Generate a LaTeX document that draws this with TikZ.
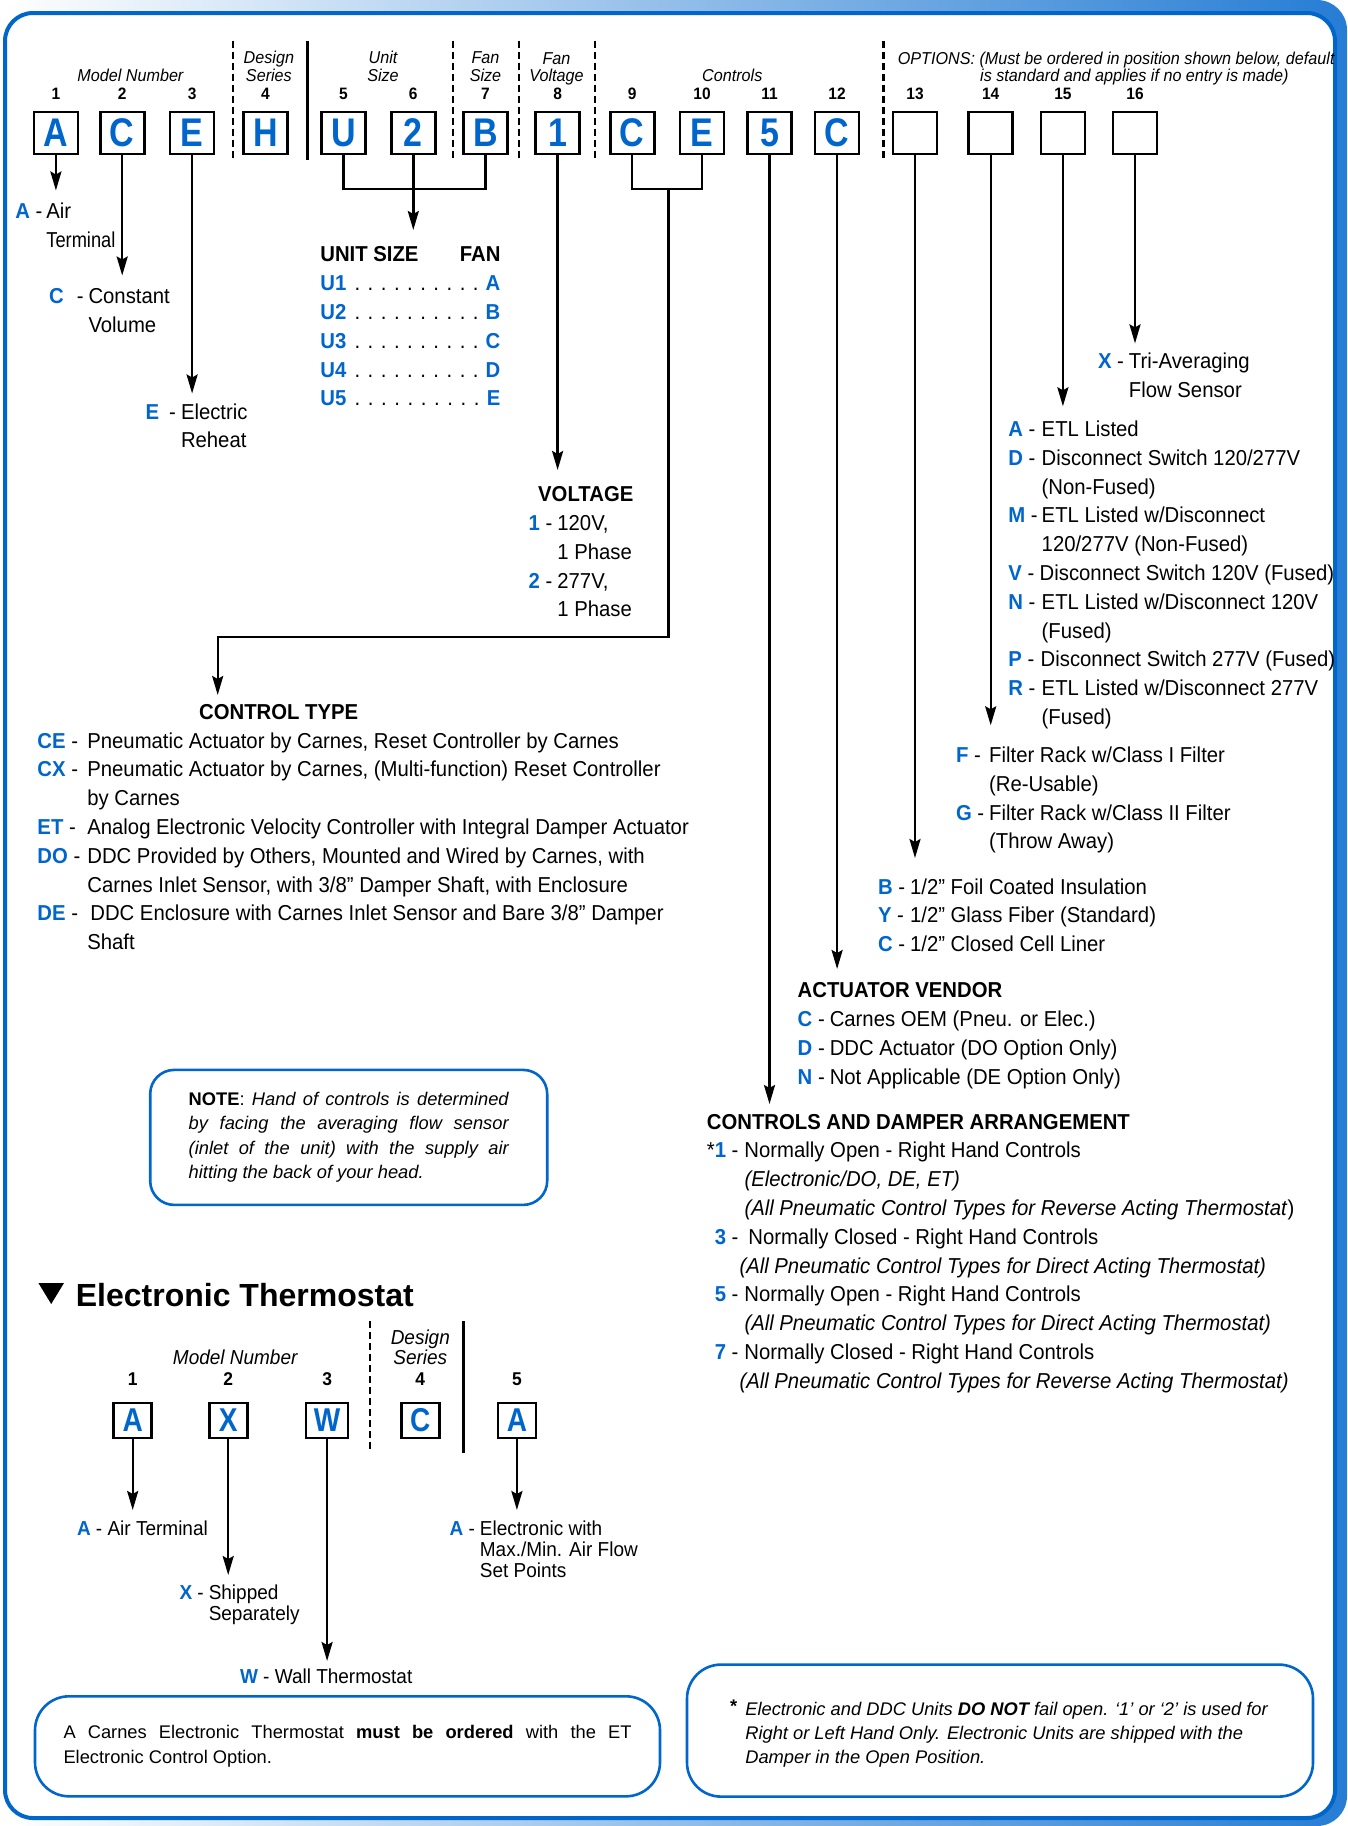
\documentclass[tikz,border=0pt]{standalone}
\usepackage{fontspec}
\usepackage{graphicx}
\setmainfont{Liberation Sans}
\newfontfamily\descfont{Liberation Sans}[FakeStretch=0.94]
\newfontfamily\boxfont{Liberation Sans}[FakeStretch=0.85]
\usetikzlibrary{positioning,arrows.meta}
\definecolor{carnesblue}{RGB}{0,102,204}
\newcommand{\cd}[1]{\textcolor{carnesblue}{\bfseries #1}}
\newcommand{\opts}[2][5pt]{\begin{tabular}[t]{@{}l@{\hspace{#1}}l@{}}#2\end{tabular}}
\newcommand{\sizerow}[2]{\hbox to 180pt{\cd{#1}\hspace{4pt}\xleaders\hbox to 12.2pt{\hss.\hss}\hfill\hspace{3pt}\cd{#2}}}

\begin{document}
\begin{tikzpicture}
        [x=1pt,y=-1pt,every node/.style={inner sep=0pt},
         codebox/.style={draw,line width=2.6pt,minimum width=44pt,minimum height=42pt,
           text=carnesblue,font=\boxfont\bfseries\fontsize{40}{40}\selectfont},
         tbox/.style={codebox,minimum height=35pt,font=\boxfont\bfseries\fontsize{33}{33}\selectfont},
         posnum/.style={font=\descfont\bfseries\fontsize{16.5}{16.5}\selectfont},
         tposnum/.style={font=\descfont\bfseries\fontsize{18.5}{18.5}\selectfont},
         fieldlbl/.style={font=\descfont\itshape\fontsize{17.2}{17.5}\selectfont\lineskiplimit-20pt,align=center,anchor=south},
         tfieldlbl/.style={fieldlbl,font=\descfont\itshape\fontsize{20.2}{20}\selectfont\lineskiplimit-20pt},
         desc/.style={font=\descfont\fontsize{21.6}{28.8}\selectfont,anchor=base west},
         tdesc/.style={font=\descfont\fontsize{20.2}{21}\selectfont,anchor=base west},
         notebox/.style={draw=carnesblue,line width=2.6pt,rounded corners=24pt,
           font=\fontsize{18.3}{24.4}\selectfont,align=justify},
         sepline/.style={line width=2.4pt,dash pattern=on 7pt off 4pt},
         lead/.style={line width=2.4pt},
         arr/.style={line width=2.4pt,-{Stealth[length=19pt,width=11pt,inset=3pt]}}]

        \useasboundingbox (0,0) rectangle (1347,1826);
        \shade[left color=white,right color=carnesblue!85,rounded corners=30pt] (0,0) rectangle (1347,1826);
        \draw[carnesblue,line width=4pt,fill=white,rounded corners=28pt] (5,13) rectangle (1335,1818);

        % code row
        \node[fieldlbl] (lmodel) at (130.4,81.5) {Model Number};
        \node[fieldlbl] (ldesign) at (268.9,81.5) {Design\\Series};
        \node[fieldlbl] (lunit) at (383,81.5) {Unit\\Size};
        \node[fieldlbl] (lfan) at (485.5,81.5) {Fan\\Size};
        \node[fieldlbl] (lvolt) at (556.5,85.5) {Fan\\Voltage};
        \node[fieldlbl] (lctrl) at (732.3,81.5) {Controls};
        \node[fieldlbl,anchor=base west] (lopt) at (897.6,64) {OPTIONS: (Must be ordered in position shown below, default};
        \node[fieldlbl,anchor=base west] (loptb) at (980,81.5) {is standard and applies if no entry is made)};

        \foreach \x in {232.8,452.9,519.2,594.9,883.6}
            \draw[sepline] (\x,40.7) -- (\x,159.5);
        \draw[lead] (307.3,40.7) -- (307.3,159.5);

        \foreach \n/\x/\l [count=\i] in {bA/55.9/A, bC/122.2/C, bE/192.1/E, bH/265.4/H,
            bU/343.4/U, bTwo/413.3/2, bB/485.5/B, bOne/557.6/1, bCa/632.2/C, bEa/702/E,
            bFive/769.5/5, bCb/837.1/C, bOpa/915/{}, bOpb/990.7/{}, bOpc/1062.9/{}, bOpd/1135/{}}
        {
            \node[codebox] (\n) at (\x,132.8) {\l};
            \node[posnum,above=11pt of \n] (p\i) {\i};
        }

        % descriptions
        \node[desc] (optA) at (15.1,218.7) {\opts[4pt]{\cd{A} - & Air\\ & \scalebox{0.9}[1]{Terminal}}};
        \node[desc] (optC) at (48.9,303.7) {\opts{\cd{C}\hspace{13pt}- & Constant\\ & Volume}};
        \node[desc] (optE) at (145.5,419) {\opts{\cd{E}\hspace{10pt}- & Electric\\ & Reheat}};
        \node[desc] (sizes) at (320.2,261.8) {\begin{tabular}[t]{@{}l@{}}
            \hbox to 180pt{\bfseries UNIT SIZE\hfill FAN}\\
            \sizerow{U1}{A}\\ \sizerow{U2}{B}\\ \sizerow{U3}{C}\\ \sizerow{U4}{D}\\ \sizerow{U5}{E}
            \end{tabular}};
        \node[desc] (volt) at (528.5,501.6) {\begin{tabular}[t]{@{}l@{\hspace{5pt}}l@{}}
            \multicolumn{2}{@{\hspace{9.5pt}}l@{}}{\bfseries VOLTAGE}\\
            \cd{1} - & 120V,\\ & 1 Phase\\ \cd{2} - & 277V,\\ & 1 Phase
            \end{tabular}};
        \node[desc] (ctype) at (37.3,719.3) {\begin{tabular}[t]{@{}l@{\hspace{7pt}}l@{}}
            \multicolumn{2}{@{\hspace{161.7pt}}l@{}}{\bfseries CONTROL TYPE}\\
            \cd{CE} - & Pneumatic Actuator by Carnes, Reset Controller by Carnes\\
            \cd{CX} - & Pneumatic Actuator by Carnes, (Multi-function) Reset Controller\\
            & by Carnes\\
            \cd{ET} - & Analog Electronic Velocity Controller with Integral Damper Actuator\\
            \cd{DO} - & DDC Provided by Others, Mounted and Wired by Carnes, with\\
            & Carnes Inlet Sensor, with 3/8” Damper Shaft, with Enclosure\\
            \cd{DE} - & \hspace{3pt}DDC Enclosure with Carnes Inlet Sensor and Bare 3/8” Damper\\
            & Shaft
            \end{tabular}};
        \node[desc] (vendor) at (797.5,997.6) {\begin{tabular}[t]{@{}l@{\hspace{5pt}}l@{}}
            \multicolumn{2}{@{}l@{}}{\bfseries ACTUATOR VENDOR}\\
            \cd{C} - & Carnes OEM (Pneu. or Elec.)\\
            \cd{D} - & DDC Actuator (DO Option Only)\\
            \cd{N} - & Not Applicable (DE Option Only)
            \end{tabular}};
        \node[desc] (arrange) at (706.7,1129.1) {\begin{tabular}[t]{@{}r@{\hspace{6pt}}l@{}}
            \multicolumn{2}{@{}l@{}}{\bfseries CONTROLS AND DAMPER ARRANGEMENT}\\
            {*}\cd{1} - & Normally Open - Right Hand Controls\\
            & \textit{(Electronic/DO, DE, ET)}\\
            & \textit{(All Pneumatic Control Types for Reverse Acting Thermostat})\\
            \cd{3} - & \hspace{4pt}Normally Closed - Right Hand Controls\\
            & \hspace{-5pt}\textit{(All Pneumatic Control Types for Direct Acting Thermostat)}\\
            \cd{5} - & Normally Open - Right Hand Controls\\
            & \textit{(All Pneumatic Control Types for Direct Acting Thermostat)}\\
            \cd{7} - & Normally Closed - Right Hand Controls\\
            & \hspace{-5pt}\textit{(All Pneumatic Control Types for Reverse Acting Thermostat)}
            \end{tabular}};
        \node[desc] (opt13) at (877.8,894) {\opts{\cd{B} - & 1/2” Foil Coated Insulation\\
            \cd{Y} - & 1/2” Glass Fiber (Standard)\\ \cd{C} - & 1/2” Closed Cell Liner}};
        \node[desc] (opt14) at (955.8,762.4) {\opts{\cd{F} - & Filter Rack w/Class I Filter\\
            & (Re-Usable)\\ \cd{G} - & Filter Rack w/Class II Filter\\ & (Throw Away)}};
        \node[desc] (opt15) at (1008.2,436.4) {\opts[4pt]{\cd{A} - & ETL Listed\\
            \cd{D} - & Disconnect Switch 120/277V\\ & (Non-Fused)\\
            \cd{M} - & ETL Listed w/Disconnect\\ & 120/277V (Non-Fused)\\
            \cd{V} - & \hspace{-2pt}Disconnect Switch 120V (Fused)\\
            \cd{N} - & ETL Listed w/Disconnect 120V\\ & (Fused)\\
            \cd{P} - & \hspace{-1pt}Disconnect Switch 277V (Fused)\\
            \cd{R} - & ETL Listed w/Disconnect 277V\\ & (Fused)}};
        \node[desc] (opt16) at (1097.8,368.9) {\opts{\cd{X} - & Tri-Averaging\\ & Flow Sensor}};

        % connectors
        \coordinate (ubar) at (413.3,189);
        \coordinate (cbar) at (668.3,189);
        \coordinate (cturn) at (217.7,636.8);
        \coordinate (tCT) at (217.7,695);
        \draw[lead] (bU) |- (ubar) -| (bB);
        \draw[lead] (bCa) |- (cbar) -| (bEa);
        \draw[arr] (cbar) |- (cturn) -- (tCT);

        \coordinate (tA) at (55.9,190.5);
        \coordinate (tC) at (122.2,275.5);
        \coordinate (tE) at (192.1,393.5);
        \coordinate (tU) at (413.3,230);
        \coordinate (tV) at (557.6,470);
        \coordinate (t11) at (769.5,1104);
        \coordinate (t12) at (837.1,969);
        \coordinate (t13) at (915,858);
        \coordinate (t14) at (990.7,725.3);
        \coordinate (t15) at (1062.9,406.3);
        \coordinate (t16) at (1135,343.4);

        \node[notebox,text width=320pt,minimum width=397pt,minimum height=135pt] (handnote) at (348.7,1137.4)
            {\textbf{NOTE}: \textit{Hand of controls is determined\linebreak by facing the averaging flow sensor\linebreak (inlet of the unit) with the supply air\linebreak hitting the back of your head.}};

        % electronic thermostat
        \fill (38.4,1283) -- (64,1283) -- (51.2,1304) -- cycle;
        \node[anchor=base west,font=\bfseries\fontsize{32}{32}\selectfont] (ethead) at (75.7,1306) {Electronic Thermostat};

        \node[tfieldlbl] (tmodel) at (235.2,1365) {Model Number};
        \node[tfieldlbl] (tdesign) at (420.3,1365) {Design\\Series};
        \draw[sepline] (370.2,1321.4) -- (370.2,1452.9);
        \draw[lead] (463.4,1321.4) -- (463.4,1452.9);

        \foreach \n/\x/\l/\w [count=\i] in {tbA/132.7/A/38, tbX/228.2/X/38, tbW/327.1/W/42,
            tbC/420.3/C/38, tbAf/516.9/A/38}
        {
            \node[tbox,minimum width=\w pt] (\n) at (\x,1420.3) {\l};
            \node[tposnum,above=16pt of \n] (q\i) {\i};
        }

        \node[tdesc] (tlA) at (76.8,1535) {\cd{A} - Air Terminal};
        \node[tdesc] (tlX) at (179.3,1599) {\opts{\cd{X} - & Shipped\\ & Separately}};
        \node[tdesc] (tlW) at (239.8,1683) {\cd{W} - Wall Thermostat};
        \node[tdesc] (tlAf) at (449.4,1535) {\opts{\cd{A} - & Electronic with\\ & Max./Min. Air Flow\\ & Set Points}};

        \coordinate (sA) at (132.7,1510);
        \coordinate (sX) at (228.2,1575);
        \coordinate (sW) at (327.1,1661);
        \coordinate (sAf) at (516.9,1510);

        \foreach \from/\to in {bA/tA, bC/tC, bE/tE, bTwo/tU, bOne/tV, bFive/t11, bCb/t12,
            bOpa/t13, bOpb/t14, bOpc/t15, bOpd/t16, tbA/sA, tbX/sX, tbW/sW, tbAf/sAf}
            \draw[arr] (\from) -- (\to);

        % bottom notes
        \node[notebox,rounded corners=34pt,text width=568pt,minimum width=625pt,minimum height=100pt] (orderbox) at (347.5,1746.3)
            {A Carnes Electronic Thermostat \textbf{must be ordered} with the ET\linebreak Electronic Control Option.};
        \node[notebox,rounded corners=34pt,minimum width=626pt,minimum height=132pt] (failbox) at (1000,1730.6) {};
        \node[anchor=west,align=left,font=\itshape\fontsize{18.3}{24.4}\selectfont] (failtext) at (745.1,1733.5)
            {\llap{\raisebox{3pt}{\upshape\bfseries *}\hspace{8pt}}Electronic and DDC Units \textbf{DO NOT} fail open. `1' or `2' is used for\\
            Right or Left Hand Only. Electronic Units are shipped with the\\
            Damper in the Open Position.};

      \end{tikzpicture}
\end{document}
